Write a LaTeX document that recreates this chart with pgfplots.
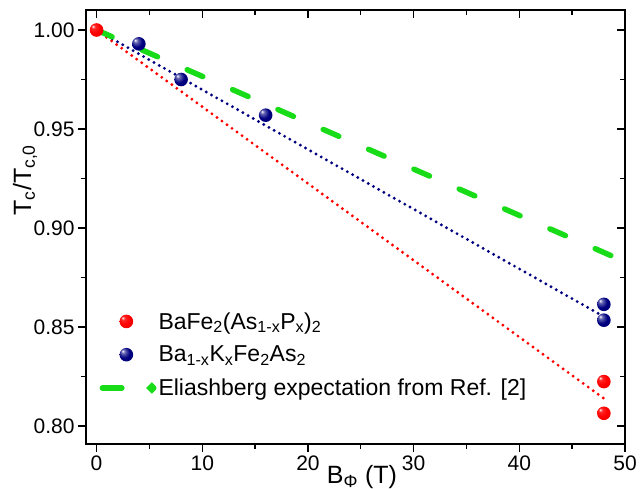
\documentclass[border=0pt]{standalone}
\usepackage{fontspec}
\setmainfont{Liberation Sans}
\usepackage{pgfplots}
\pgfplotsset{compat=1.18}
\definecolor{ogreen}{RGB}{25,220,25}
\definecolor{onavy}{RGB}{0,0,128}
\definecolor{ored}{RGB}{255,0,0}
\pgfdeclareradialshading{redsph}{\pgfpoint{-14bp}{14bp}}{color(0bp)=(white); color(7bp)=(red!85!white); color(20bp)=(red); color(42bp)=(red!88!black); color(50bp)=(red!80!black)}
\pgfdeclareradialshading{navysph}{\pgfpoint{-14bp}{14bp}}{color(0bp)=(white); color(7bp)=(onavy!60!white); color(20bp)=(onavy); color(42bp)=(onavy!90!black); color(50bp)=(onavy!80!black)}
\pgfdeclareplotmark{redsph}{\pgfpathcircle{\pgfpointorigin}{\pgfplotmarksize}\pgfshadepath{redsph}{0}\pgfusepath{}}
\pgfdeclareplotmark{navysph}{\pgfpathcircle{\pgfpointorigin}{\pgfplotmarksize}\pgfshadepath{navysph}{0}\pgfusepath{}}
\pgfplotsset{
  ballleg/.style={legend image code/.code={\draw[mark repeat=2,mark phase=2,##1] plot coordinates {(0pt,0pt) (26.5pt,0pt) (53pt,0pt)};}},
  dashleg/.style={legend image code/.code={\draw[##1, solid] (2.5pt,0pt) -- (22pt,0pt); \fill[ogreen] (52pt,0pt) circle (1.9pt); \path (0pt,0pt) (53pt,0pt);}},
}
\begin{document}
\begin{tikzpicture}
\useasboundingbox (-86pt,-45pt) rectangle (558pt,444pt);
\begin{axis}[
  scale only axis, width=539pt, height=434pt,
  xmin=-1, xmax=50, ymin=0.791, ymax=1.0101,
  axis line style={line width=1.6pt},
  xtick={0,10,20,30,40,50}, minor xtick={5,15,25,35,45},
  ytick={0.80,0.85,0.90,0.95,1.00}, minor ytick={0.825,0.875,0.925,0.975},
  tick align=outside, xtick pos=left, ytick pos=left,
  major tick length=8pt, minor tick length=5pt,
  every tick/.style={line width=1.4pt, black},
  /pgf/number format/assume math mode=true,
  ticklabel style={font=\fontsize{21}{23}\selectfont},
  yticklabel style={/pgf/number format/.cd, fixed, fixed zerofill, precision=2},
  xticklabel style={/pgf/number format/.cd, fixed, precision=0},
  xlabel={B\textsubscript{Φ} (T)},
  ylabel={T\textsubscript{c}/T\textsubscript{c,0}},
  label style={font=\fontsize{25}{27}\selectfont},
  xlabel style={at={(axis description cs:0.512,0)}, anchor=north, yshift=-18pt},
  ylabel style={at={(axis description cs:-0.113,0.608)}, anchor=center},
  legend style={at={(axis description cs:0.0147,0.313)}, anchor=north west, draw=none, fill=none,
    font=\fontsize{23}{25}\selectfont, row sep=11.5pt, legend cell align=left},
  clip=false,
]
% fit lines (not in legend)
\addplot[ored, line width=3.2pt, line cap=round, dash pattern=on 0pt off 6.2pt, forget plot] coordinates {(0,1.0) (48.1,0.8136)};
\addplot[onavy, line width=3.2pt, line cap=round, dash pattern=on 0pt off 6pt, forget plot] coordinates {(0,1.0) (48.1,0.855)};
% legend entries for the data
\addlegendimage{only marks, mark=redsph, mark size=6.8pt, ballleg}
\addlegendentry{BaFe\textsubscript{2}(As\textsubscript{1-x}P\textsubscript{x})\textsubscript{2}}
\addlegendimage{only marks, mark=navysph, mark size=6.8pt, ballleg}
\addlegendentry{Ba\textsubscript{1-x}K\textsubscript{x}Fe\textsubscript{2}As\textsubscript{2}}
\addplot[ogreen, line width=5.5pt, line cap=round, dash pattern=on 17pt off 32.5pt, dashleg]
  coordinates {(0,1.0) (50,0.883)};
\addlegendentry{Eliashberg expectation from Ref. [2]}
\addplot[only marks, mark=navysph, mark size=6.8pt, forget plot]
  coordinates {(4,0.993) (8,0.975) (16,0.957) (48,0.8615) (48,0.8535)};
\addplot[only marks, mark=redsph, mark size=6.8pt, forget plot]
  coordinates {(0,1.0) (48,0.8225) (48,0.8065)};
\end{axis}
\begin{axis}[
  scale only axis, width=539pt, height=434pt,
  xmin=-1, xmax=50, ymin=0.791, ymax=1.0101,
  axis line style={line width=1.6pt},
  xtick={0,10,20,30,40,50}, minor xtick={5,15,25,35,45},
  ytick={0.80,0.85,0.90,0.95,1.00}, minor ytick={0.825,0.875,0.925,0.975},
  tick align=inside, xtick pos=right, ytick pos=right,
  major tick length=8pt, minor tick length=5pt,
  every tick/.style={line width=1.4pt, black},
  xticklabels={}, yticklabels={},
]
\end{axis}
\end{tikzpicture}
\end{document}
